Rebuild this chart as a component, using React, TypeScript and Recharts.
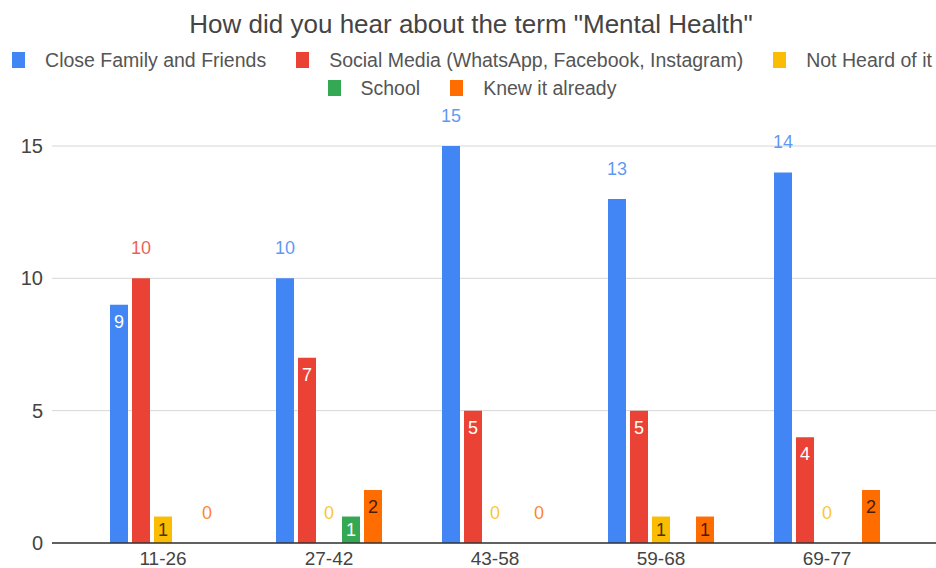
import React from "react";
import {
  BarChart,
  Bar,
  XAxis,
  YAxis,
  CartesianGrid,
  Legend,
  LabelList,
} from "recharts";

// Age groups along the x axis
const ageGroups = ["11-26", "27-42", "43-58", "59-68", "69-77"];

// Counts per source (null = no bar drawn in the original)
const closeFamily = [9, 10, 15, 13, 14];
const socialMedia = [10, 7, 5, 5, 4];
const notHeard = [1, 0, 0, 1, 0];
const school = [null, 1, null, null, null];
const knewAlready = [0, 2, 0, 1, 2];

const seriesNames = [
  "Close Family and Friends",
  "Social Media (WhatsApp, Facebook, Instagram)",
  "Not Heard of it",
  "School",
  "Knew it already",
];

const yTicks = [0, 5, 10, 15];

const COLORS = {
  family: "#4285F4", // blue
  social: "#EA4335", // red
  notHeard: "#FBBC04", // yellow
  school: "#34A853", // green
  knew: "#FF6D01", // orange
};

const FONT = '"Liberation Sans", Arial, sans-serif';

const data = ageGroups.map((name, i) => ({
  name,
  family: closeFamily[i],
  social: socialMedia[i],
  notHeard: notHeard[i],
  school: school[i],
  knew: knewAlready[i],
}));

// tallest bar of each group gets its label above the bar
const groupMax = ageGroups.map((_, i) =>
  Math.max(closeFamily[i], socialMedia[i], notHeard[i], school[i] ?? 0, knewAlready[i])
);

const makeLabel = (color: string, insideColor: string) => (props: any) => {
  const { x, y, width, height, value, index } = props;
  if (value === null || value === undefined) return null;
  const v = Number(value);
  const cx = Number(x) + Number(width) / 2;
  const h = Math.abs(Number(height));
  const top = Number(y) + (Number(height) < 0 ? Number(height) : 0);
  const outside = v === 0 || v === groupMax[index];
  const ty = outside ? top - 30 : top + Math.min(17, h / 2);
  return (
    <text
      x={cx}
      y={ty}
      textAnchor="middle"
      dominantBaseline="central"
      fontSize={18}
      fontFamily={FONT}
      fill={outside ? color : insideColor}
      fillOpacity={outside ? 0.85 : 1}
    >
      {v}
    </text>
  );
};

const renderLegend = (props: any) => {
  const items = [...(props.payload || [])].sort(
    (a: any, b: any) => seriesNames.indexOf(a.value) - seriesNames.indexOf(b.value)
  );
  const row = (list: any[]) => (
    <div style={{ display: "flex", justifyContent: "center", height: 28, alignItems: "center" }}>
      {list.map((entry: any, i: number) => (
        <div
          key={entry.value}
          style={{ display: "flex", alignItems: "center", marginLeft: i === 0 ? 0 : 30, whiteSpace: "nowrap" }}
        >
          <span style={{ display: "inline-block", width: 13, height: 16, background: entry.color, marginRight: 20 }} />
          <span style={{ fontSize: 19.5, color: "#555", fontFamily: FONT }}>{entry.value}</span>
        </div>
      ))}
    </div>
  );
  return (
    <div style={{ paddingLeft: 8 }}>
      {row(items.slice(0, 3))}
      {row(items.slice(3))}
    </div>
  );
};

export default function App() {
  return (
    <div style={{ position: "absolute", left: 0, top: 0, width: 936, height: 568, background: "#fff", fontFamily: FONT }}>
      <div
        style={{
          position: "absolute",
          top: 12,
          left: 0,
          width: 936,
          textAlign: "center",
          fontSize: 26,
          lineHeight: "25px",
          color: "#444",
          paddingLeft: 3,
        }}
      >
        How did you hear about the term "Mental Health"
      </div>
      <BarChart
        width={936}
        height={568}
        data={data}
        margin={{ top: 146, right: 0, bottom: 0, left: 0 }}
        barSize={18}
        barGap={4}
      >
        <CartesianGrid vertical={false} stroke="#d6d6d6" />
        <XAxis
          dataKey="name"
          height={25}
          padding={{ left: 28, right: 26 }}
          tickLine={false}
          tickSize={0}
          tickMargin={9}
          axisLine={{ stroke: "#333", strokeWidth: 1.5 }}
          tick={{ fontSize: 19, fill: "#444", fontFamily: FONT }}
        />
        <YAxis
          width={52}
          domain={[0, 15]}
          ticks={yTicks}
          axisLine={false}
          tickLine={false}
          tickSize={0}
          tickMargin={9}
          tick={{ fontSize: 20, fill: "#444", fontFamily: FONT }}
        />
        <Legend
          layout="horizontal"
          verticalAlign="middle"
          align="center"
          content={renderLegend}
          wrapperStyle={{ top: 46, left: 0, width: 936 }}
        />
        <Bar dataKey="family" name={seriesNames[0]} fill={COLORS.family} minPointSize={0.01} isAnimationActive={false}>
          <LabelList dataKey="family" content={makeLabel(COLORS.family, "#fff")} />
        </Bar>
        <Bar dataKey="social" name={seriesNames[1]} fill={COLORS.social} minPointSize={0.01} isAnimationActive={false}>
          <LabelList dataKey="social" content={makeLabel(COLORS.social, "#fff")} />
        </Bar>
        <Bar dataKey="notHeard" name={seriesNames[2]} fill={COLORS.notHeard} minPointSize={0.01} isAnimationActive={false}>
          <LabelList dataKey="notHeard" content={makeLabel(COLORS.notHeard, "#4a3500")} />
        </Bar>
        <Bar dataKey="school" name={seriesNames[3]} fill={COLORS.school} isAnimationActive={false}>
          <LabelList dataKey="school" content={makeLabel(COLORS.school, "#fff")} />
        </Bar>
        <Bar dataKey="knew" name={seriesNames[4]} fill={COLORS.knew} minPointSize={0.01} isAnimationActive={false}>
          <LabelList dataKey="knew" content={makeLabel(COLORS.knew, "#4a1c00")} />
        </Bar>
      </BarChart>
    </div>
  );
}
